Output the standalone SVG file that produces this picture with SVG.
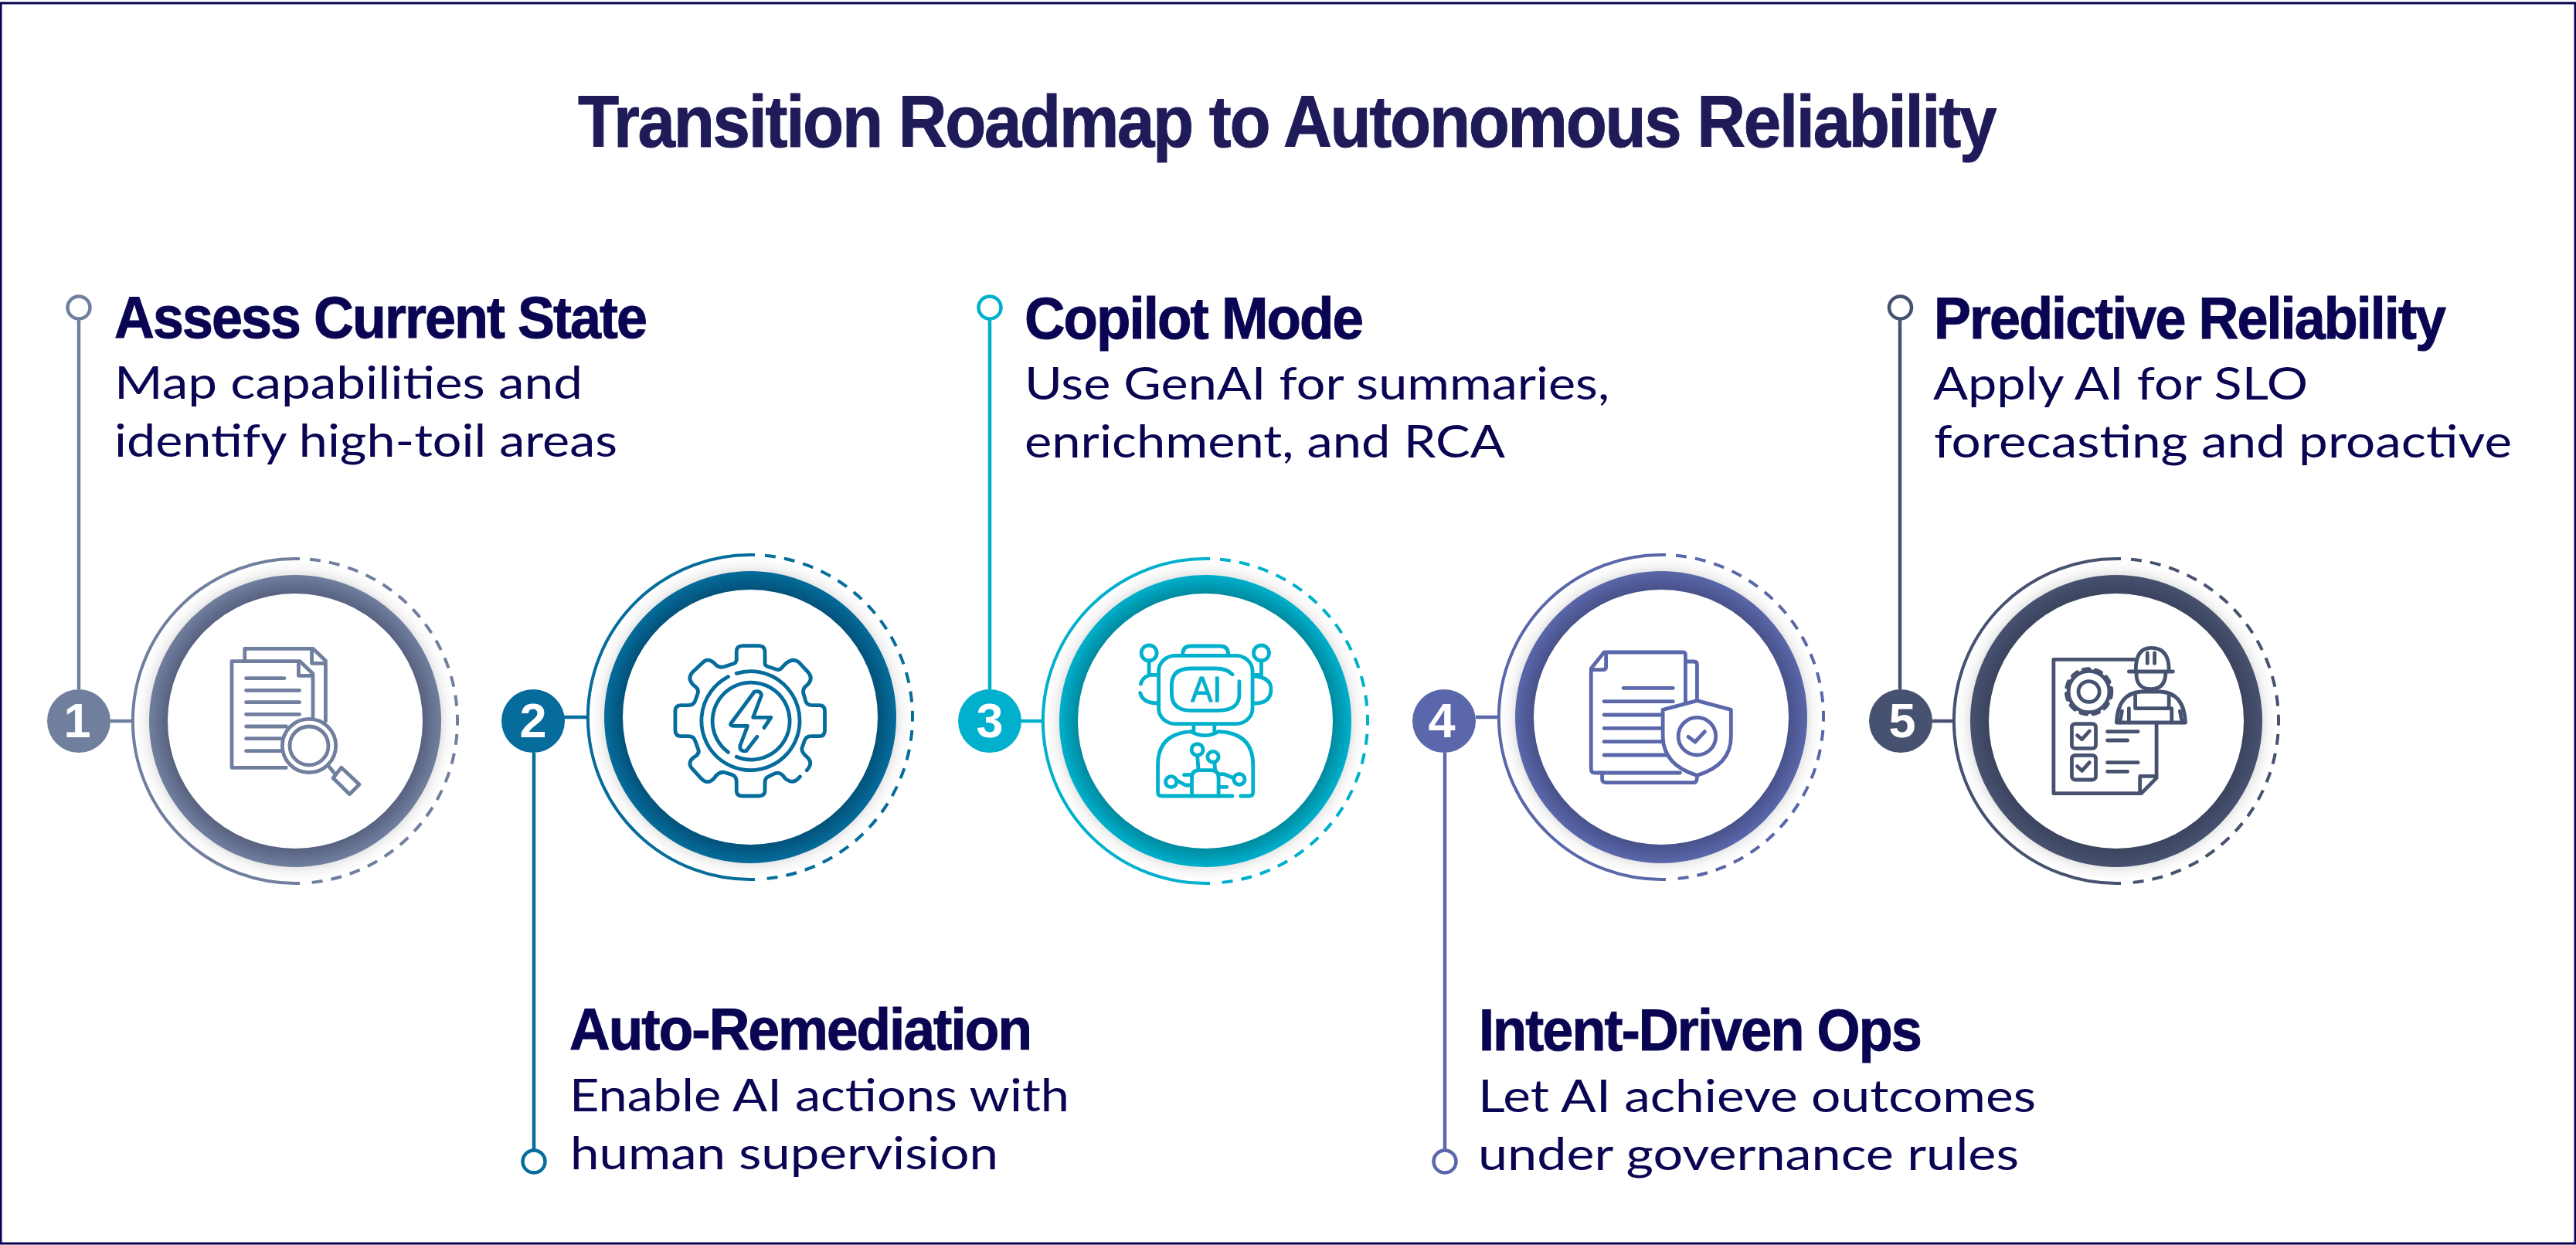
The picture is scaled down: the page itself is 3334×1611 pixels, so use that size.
<svg xmlns="http://www.w3.org/2000/svg" xmlns:xlink="http://www.w3.org/1999/xlink" width="3334" height="1611" viewBox="0 0 3334 1611">
<style>
.c1{color:#717f9f}.c2{color:#056c9b}.c3{color:#00b0cc}.c4{color:#5a67aa}.c5{color:#475270}
.arc{fill:none;stroke:currentColor;stroke-width:4}
.dash{stroke-dasharray:14 11.2}
.badge{fill:currentColor}
.num{font:700 63px "Liberation Sans",Arial,sans-serif;fill:#fff;text-anchor:middle}
.ic{fill:none;stroke:currentColor;stroke-width:4.8;stroke-linecap:round;stroke-linejoin:round}
.ic *{vector-effect:non-scaling-stroke}
.ai{font:400 47px "Liberation Sans",Arial,sans-serif;fill:currentColor;stroke:currentColor;stroke-width:1;text-anchor:middle}
.title{font:700 95px "Liberation Sans",Arial,sans-serif;fill:#1f1a58;stroke:#1f1a58;stroke-width:1;letter-spacing:-2.5px}
.head{font:700 76px "Liberation Sans",Arial,sans-serif;fill:#0a0553;stroke:#0a0553;stroke-width:1;letter-spacing:-2px}
.body{font:400 59px Lato,"Liberation Sans",sans-serif;fill:#0a0553}
.conn line{stroke:currentColor;stroke-width:4.5}
.conn circle{fill:#fff;stroke:currentColor;stroke-width:4.5}
</style>
<defs>
<radialGradient id="glow"><stop offset=".91" stop-color="#e6e6e6"/><stop offset=".95" stop-color="#f6f6f6"/><stop offset="1" stop-color="#fff"/></radialGradient>
<radialGradient id="g1"><stop offset=".873" stop-color="#586280"/><stop offset="1" stop-color="#717f9f"/></radialGradient>
<radialGradient id="g2"><stop offset=".873" stop-color="#03527a"/><stop offset="1" stop-color="#056c9b"/></radialGradient>
<radialGradient id="g3"><stop offset=".873" stop-color="#008a9f"/><stop offset="1" stop-color="#00b0cc"/></radialGradient>
<radialGradient id="g4"><stop offset=".873" stop-color="#48528a"/><stop offset="1" stop-color="#5a67aa"/></radialGradient>
<radialGradient id="g5"><stop offset=".873" stop-color="#3c445e"/><stop offset="1" stop-color="#475270"/></radialGradient>
<g id="ringBase">
<circle r="207" fill="url(#glow)"/>
<path class="arc" d="M6,-209.91A210,210 0 1 0 6,209.91"/>
<path class="arc dash" d="M19,-209.14A210,210 0 0 1 19,209.14"/>
</g>
</defs>
<rect width="3334" height="1611" fill="#fff"/>
<rect x="1" y="4" width="3332" height="1605" fill="none" stroke="#0a0553" stroke-width="3"/>
<text id="title" class="title" x="748" y="190" textLength="1834" lengthAdjust="spacingAndGlyphs">Transition Roadmap to Autonomous Reliability</text>

<g id="connectors" class="conn">
<g class="c1"><line x1="102" y1="414" x2="102" y2="892"/><line x1="143" y1="933" x2="172" y2="933"/><circle cx="102" cy="398" r="14.5"/></g>
<g class="c2"><line x1="691" y1="974" x2="691" y2="1487"/><line x1="730" y1="928" x2="761" y2="928"/><circle cx="691" cy="1503" r="14.5"/></g>
<g class="c3"><line x1="1281" y1="414" x2="1281" y2="892"/><line x1="1322" y1="933" x2="1350" y2="933"/><circle cx="1281" cy="398" r="14.5"/></g>
<g class="c4"><line x1="1870" y1="974" x2="1870" y2="1487"/><line x1="1910" y1="928" x2="1940" y2="928"/><circle cx="1870" cy="1503" r="14.5"/></g>
<g class="c5"><line x1="2459" y1="414" x2="2459" y2="892"/><line x1="2501" y1="933" x2="2529" y2="933"/><circle cx="2459.500" cy="398" r="14.5"/></g>
</g>

<g id="node-1" class="c1">
<g transform="translate(382 933)"><use href="#ringBase"/><circle r="189" fill="url(#g1)"/><circle r="165" fill="#fff"/></g>
<circle class="badge" cx="102" cy="933" r="41"/><text class="num" x="100" y="954">1</text>
<g class="ic" transform="translate(40 660) scale(.35714 .33333)">
<path d="M775,585V538H1022L1068,585V820M1018,545V595H1068"/>
<path d="M728,1000V587H975L1022,635V810M970,592V643H1022M728,1000H925"/>
<path d="M780,653H918M780,700H973M780,746H973M780,793H973M780,840H925M780,887H905M780,935H905"/>
<ellipse cx="1008" cy="915" rx="97" ry="104"/><ellipse cx="1008" cy="915" rx="70" ry="75"/>
<path d="M1080,995L1105,1028M1125,1000L1190,1065L1155,1103L1095,1040Z"/>
</g>
<text class="head" x="148" y="437" textLength="688" lengthAdjust="spacingAndGlyphs">Assess Current State</text>
<text class="body" x="148" y="516" textLength="606" lengthAdjust="spacingAndGlyphs">Map capabilities and</text>
<text class="body" x="148" y="591" textLength="651" lengthAdjust="spacingAndGlyphs">identify high-toil areas</text>
</g>

<g id="node-2" class="c2">
<g transform="translate(971 928)"><use href="#ringBase"/><circle r="189" fill="url(#g2)"/><circle r="165" fill="#fff"/></g>
<circle class="badge" cx="690" cy="933" r="41"/><text class="num" x="690" y="954">2</text>
<g class="ic" transform="translate(630 690) scale(.35714 .33333)">
<path d="M905,490V460Q905,437 928,437H985Q1008,437 1008,460V505Q1008,515 1020,518L1055,530Q1065,530 1075,515Q1105,480 1130,500L1165,540Q1185,565 1160,590Q1140,605 1150,630L1155,650Q1160,668 1180,668H1205Q1225,668 1225,690V765Q1225,788 1205,788H1175Q1155,788 1150,810L1142,835Q1140,850 1160,868Q1185,890 1160,920"/>
<path d="M1135,945Q1110,980 1080,950Q1065,925 1045,932L1020,945Q1008,950 1008,970V1000Q1008,1020 985,1020H925Q905,1020 905,1000V965Q905,945 890,938L860,928Q840,925 825,950Q800,980 775,950L745,915Q725,890 750,870Q775,855 765,835L755,805Q750,788 730,788H705Q683,788 683,765V690Q683,668 705,668H730Q752,668 757,645L765,620Q770,605 750,590Q725,565 745,540L780,505Q800,480 825,505Q840,525 860,518L890,508Q905,505 905,490"/>
<path d="M905,544A178,192 0 1 1 875,557"/>
<path d="M905,868A140,150 0 1 0 875,850"/>
<path d="M1005,755L1030,715H965L995,630Q995,610 970,615L885,738Q880,748 895,748H945L918,825Q915,848 940,845L980,790"/>
</g>
<text class="head" x="737" y="1358" textLength="597" lengthAdjust="spacingAndGlyphs">Auto-Remediation</text>
<text class="body" x="737" y="1438" textLength="647" lengthAdjust="spacingAndGlyphs">Enable AI actions with</text>
<text class="body" x="738" y="1513" textLength="554" lengthAdjust="spacingAndGlyphs">human supervision</text>
</g>

<g id="node-3" class="c3">
<g transform="translate(1560 933)"><use href="#ringBase"/><circle r="189" fill="url(#g3)"/><circle r="165" fill="#fff"/></g>
<circle class="badge" cx="1281" cy="933" r="41"/><text class="num" x="1281" y="954">3</text>
<g class="ic" transform="translate(1220 690) scale(.35714 .33333)">
<rect x="783" y="475" width="340" height="265" rx="60" ry="60"/>
<path d="M870,470Q870,438 900,438H1005Q1035,438 1035,470"/>
<path d="M1050,548Q1030,525 990,525H900Q830,525 830,590V620Q830,688 900,688H1000Q1078,688 1075,620V575"/>
<ellipse cx="748" cy="465" rx="28" ry="30"/><ellipse cx="1155" cy="465" rx="28" ry="30"/>
<path d="M748,495V550H783M718,585Q725,558 748,552M716,620Q725,660 780,660M1155,495V550H1123M1130,555Q1190,560 1190,605Q1190,660 1130,660"/>
<path d="M910,742V775M985,742V775M900,770Q950,800 1000,770"/>
<path d="M905,770Q780,775 780,900V1005Q780,1020 795,1020H1050M1080,1020H1110Q1125,1020 1125,1005V900Q1125,775 1000,770"/>
<path d="M903,1020V950Q903,920 930,920H975Q1000,920 1000,950V1020"/>
<ellipse cx="923" cy="840" rx="21" ry="22"/><ellipse cx="980" cy="868" rx="20" ry="21"/><ellipse cx="828" cy="965" rx="20" ry="21"/><ellipse cx="1075" cy="955" rx="20" ry="21"/>
<path d="M923,862L927,918M985,889L988,925M850,960L880,978H900M875,938H903M1055,950L1020,935H1000M1000,985H1030"/>
</g>
<text class="ai" x="1561" y="908" textLength="40" lengthAdjust="spacingAndGlyphs">AI</text>
<text class="head" x="1326" y="438" textLength="437" lengthAdjust="spacingAndGlyphs">Copilot Mode</text>
<text class="body" x="1326" y="517" textLength="757" lengthAdjust="spacingAndGlyphs">Use GenAI for summaries,</text>
<text class="body" x="1326" y="592" textLength="622" lengthAdjust="spacingAndGlyphs">enrichment, and RCA</text>
</g>

<g id="node-4" class="c4">
<g transform="translate(2150 928)"><use href="#ringBase"/><circle r="189" fill="url(#g4)"/><circle r="165" fill="#fff"/></g>
<circle class="badge" cx="1869" cy="933" r="41"/><text class="num" x="1866" y="954">4</text>
<g class="ic" transform="translate(1810 690) scale(.35714 .33333)">
<path d="M1040,655V472Q1040,462 1030,462H745L698,525V915Q698,930 712,930H1020"/>
<path d="M752,470V520Q752,530 740,530H700"/>
<path d="M1040,498H1070Q1082,498 1082,510V650M738,930V955Q738,968 752,968H1070Q1082,968 1082,945"/>
<path d="M815,601H995M745,653H995M745,705H955M745,757H955M745,809H955M745,861H975"/>
<path d="M958,685L1082,650L1205,685V790Q1205,900 1082,940Q960,900 958,790Z"/>
<ellipse cx="1082" cy="788" rx="68" ry="73"/>
<path d="M1050,790L1075,810L1110,770"/>
</g>
<text class="head" x="1914" y="1359" textLength="572" lengthAdjust="spacingAndGlyphs">Intent-Driven Ops</text>
<text class="body" x="1913" y="1439" textLength="722" lengthAdjust="spacingAndGlyphs">Let AI achieve outcomes</text>
<text class="body" x="1913" y="1514" textLength="700" lengthAdjust="spacingAndGlyphs">under governance rules</text>
</g>

<g id="node-5" class="c5">
<g transform="translate(2739 933)"><use href="#ringBase"/><circle r="189" fill="url(#g5)"/><circle r="165" fill="#fff"/></g>
<circle class="badge" cx="2460" cy="933" r="41"/><text class="num" x="2462" y="954">5</text>
<g class="ic" transform="translate(2400 690) scale(.35714 .33333)">
<path d="M1015,490H722V1010H1040L1095,950V740M1035,1005V943H1095"/>
<ellipse cx="850" cy="615" rx="38" ry="40"/>
<ellipse cx="850" cy="615" rx="74" ry="80"/>
<ellipse cx="850" cy="615" rx="82" ry="88" stroke-dasharray="8 8.300"/>
<rect x="788" y="740" width="87" height="95" rx="12"/><rect x="788" y="862" width="87" height="95" rx="12"/>
<path d="M808,785L825,800L852,768M808,905L825,922L852,890"/>
<path d="M917,770H1028M917,804H990M917,890H1028M917,925H990"/>
<path d="M1020,530Q1020,445 1075,445Q1140,445 1140,530M995,537H1155M1062,465V505M1088,465V505"/>
<path d="M1022,540Q1020,605 1075,605Q1128,605 1128,540"/>
<path d="M950,735Q955,620 1040,615H1110Q1195,620 1200,735Z"/>
<path d="M1018,630V680H1140V630M995,680V735M1150,680V735M970,690L962,735M1180,690L1188,735"/>
</g>
<text class="head" x="2503" y="438" textLength="661" lengthAdjust="spacingAndGlyphs">Predictive Reliability</text>
<text class="body" x="2502" y="517" textLength="485" lengthAdjust="spacingAndGlyphs">Apply AI for SLO</text>
<text class="body" x="2503" y="592" textLength="748" lengthAdjust="spacingAndGlyphs">forecasting and proactive</text>
</g>
</svg>
